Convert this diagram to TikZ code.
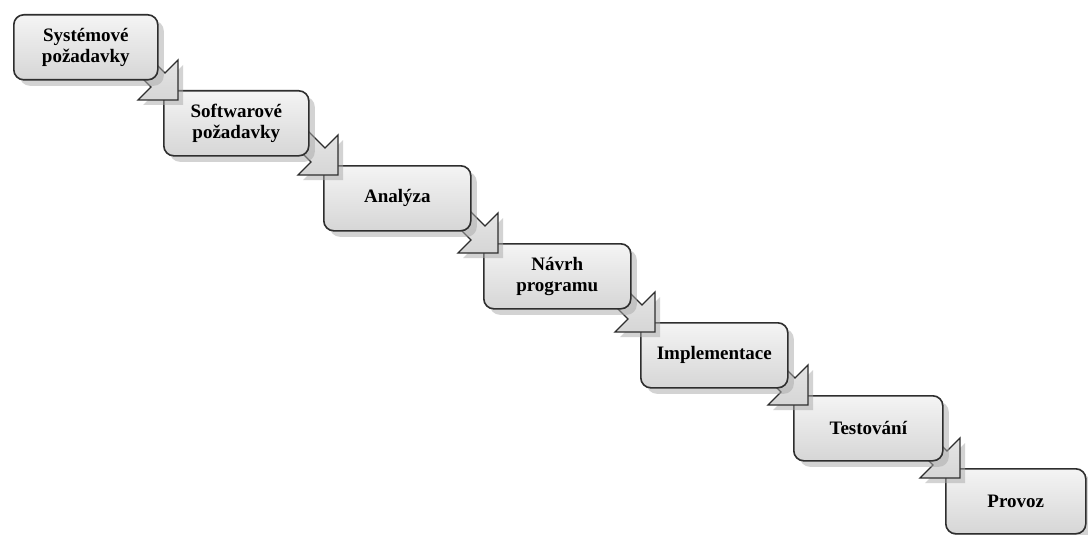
\documentclass[tikz,border=0pt]{standalone}
\usepackage{fontspec}
\setmainfont{Liberation Serif}
\usetikzlibrary{calc,shadows}
\definecolor{StageInk}{HTML}{2E2E2E}
\definecolor{StageTop}{HTML}{F4F4F4}
\definecolor{StageBottom}{HTML}{D6D6D6}
\definecolor{StageShade}{HTML}{A8A8A8}

\begin{document}
\begin{tikzpicture}[
      x=1pt,y=-1pt,
      stage/.style={draw=StageInk,line width=1.6pt,rounded corners=10pt,
        top color=StageTop,bottom color=StageBottom,anchor=north west,
        minimum height=65pt,align=center,inner sep=2pt,
        font=\bfseries\fontsize{19}{21}\selectfont,
        drop shadow={shadow xshift=6pt,shadow yshift=-6pt,fill=StageShade}},
      flow/.style={draw=StageInk,line width=1.3pt,line join=miter,
        top color=StageTop!60!StageBottom,bottom color=StageBottom,
        drop shadow={shadow xshift=5pt,shadow yshift=-5pt,fill=StageShade}}
    ]
    \clip (0,0) rectangle (1088,535);
    \fill[white] (0,0) rectangle (1088,535);

    % boxes from the last to the first, each arrow sits between two of them
    \node[stage,minimum width=140pt] (prov) at (945,468) {Provoz};
    \draw[flow,shift={($(prov.north west)+(15,10)$)}]
      (0,0) -- (0,-40) -- (-13,-27) -- (-38,-52) -- (-52,-38) -- (-27,-13) -- (-40,0) -- cycle;
    \node[stage,minimum width=149pt] (test) at (793,395) {Testování};
    \draw[flow,shift={($(test.north west)+(15,10)$)}]
      (0,0) -- (0,-40) -- (-13,-27) -- (-38,-52) -- (-52,-38) -- (-27,-13) -- (-40,0) -- cycle;
    \node[stage,minimum width=147pt] (impl) at (640,322) {Implementace};
    \draw[flow,shift={($(impl.north west)+(15,10)$)}]
      (0,0) -- (0,-40) -- (-13,-27) -- (-38,-52) -- (-52,-38) -- (-27,-13) -- (-40,0) -- cycle;
    \node[stage,minimum width=147pt] (navrh) at (483,243) {Návrh\\programu};
    \draw[flow,shift={($(navrh.north west)+(15,10)$)}]
      (0,0) -- (0,-40) -- (-13,-27) -- (-38,-52) -- (-52,-38) -- (-27,-13) -- (-40,0) -- cycle;
    \node[stage,minimum width=147pt] (anal) at (323,165) {Analýza};
    \draw[flow,shift={($(anal.north west)+(15,10)$)}]
      (0,0) -- (0,-40) -- (-13,-27) -- (-38,-52) -- (-52,-38) -- (-27,-13) -- (-40,0) -- cycle;
    \node[stage,minimum width=145pt] (swreq) at (163,90) {Softwarové\\požadavky};
    \draw[flow,shift={($(swreq.north west)+(15,10)$)}]
      (0,0) -- (0,-40) -- (-13,-27) -- (-38,-52) -- (-52,-38) -- (-27,-13) -- (-40,0) -- cycle;
    \node[stage,minimum width=144pt] (sysreq) at (13,14) {Systémové\\požadavky};
  \end{tikzpicture}
\end{document}
